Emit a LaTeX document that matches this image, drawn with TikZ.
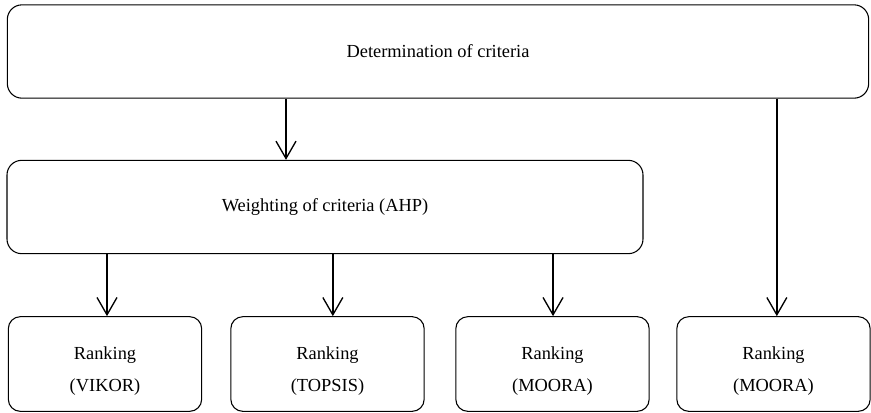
\documentclass[tikz,border=0pt]{standalone}
\usepackage{fontspec}
\setmainfont{Liberation Serif}
\usepackage{tikz}
\usetikzlibrary{arrows.meta,positioning,calc}
\newcommand{\rk}[1]{\rule{0pt}{20pt}Ranking\\(#1)}

\begin{document}
\begin{tikzpicture}[
    x=0.75pt,y=-0.75pt,
    stage/.style={draw=black,line width=0.8pt,rounded corners=11pt,align=center,font={\fontsize{13.8}{24}\selectfont},inner sep=0pt},
    rank/.style={stage,rounded corners=9pt,minimum width=145pt,minimum height=71pt},
    arr/.style={-{Straight Barb[length=13pt,width=15pt,line width=1pt]},line width=1pt,black}
  ]
    \useasboundingbox (0,0) rectangle (871,412);
    \node[stage,minimum width=646pt,minimum height=70pt] (crit) at (438,51.5) {Determination of criteria};
    \node[stage,minimum width=477pt,minimum height=70pt] (ahp) at (325,207) {Weighting of criteria (AHP)};
    \node[rank] (vikor) at (105,364) {\rk{VIKOR}};
    \node[rank] (topsis) at (327.5,364) {\rk{TOPSIS}};
    \node[rank] (moora) at (552.5,364) {\rk{MOORA}};
    \node[rank] (mooraB) at (773.5,364) {\rk{MOORA}};
    \coordinate (w) at (286,0);
    \draw[arr] (crit.south -| w) -- (ahp.north -| w);
    \draw[arr] ([xshift=1.5pt]ahp.south -| vikor.north) -- ([xshift=1.5pt]vikor.north);
    \draw[arr] ([xshift=4pt]ahp.south -| topsis.north) -- ([xshift=4pt]topsis.north);
    \draw[arr] ([xshift=0.4pt]ahp.south -| moora.north) -- ([xshift=0.4pt]moora.north);
    \draw[arr] ([xshift=2.5pt]crit.south -| mooraB.north) -- ([xshift=2.5pt]mooraB.north);
  \end{tikzpicture}
\end{document}
